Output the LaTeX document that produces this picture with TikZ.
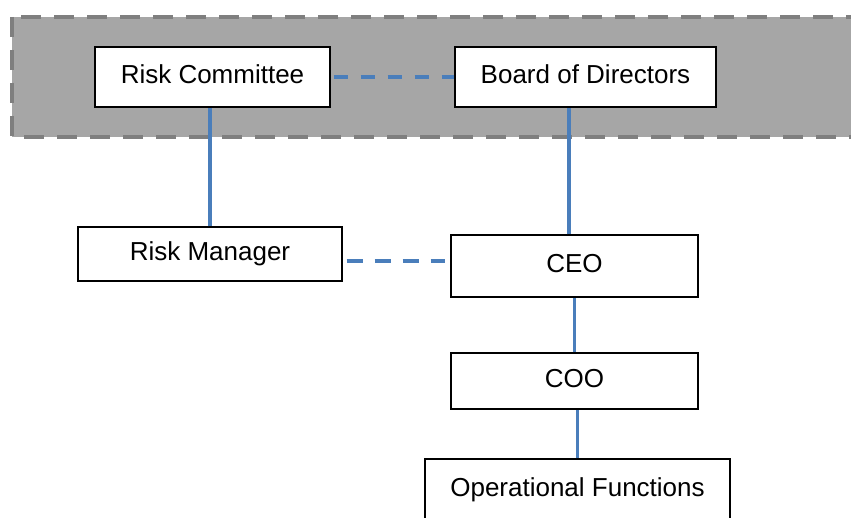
\documentclass[tikz,border=0pt]{standalone}
\usepackage{fontspec}
\setmainfont{Liberation Sans}
\definecolor{bandfill}{HTML}{A6A6A6}
\definecolor{bandedge}{HTML}{7F7F7F}
\definecolor{linkblue}{HTML}{4A7EBB}
\begin{document}
\begin{tikzpicture}[x=1pt,y=-1pt,
  orgbox/.style={draw=black, line width=1.4pt, fill=white, rectangle,
    inner sep=0pt, font=\fontsize{26}{30}\selectfont,
    text height=18.7pt, text depth=6.5pt},
  solidlink/.style={draw=linkblue, line width=3.2pt},
  dashlink/.style={draw=linkblue, line width=3.2pt}]
  \useasboundingbox (0,0) rectangle (851,518);
  % board-level band
  \draw[fill=bandfill, draw=bandedge, line width=4.5pt, dash pattern=on 20pt off 13pt]
    (12,17) rectangle (880,137);
  % boxes
  \node[orgbox, minimum width=235pt, minimum height=60pt] (rc)  at (212.5,77)  {Risk Committee};
  \node[orgbox, minimum width=261pt, minimum height=60pt] (bod) at (585.5,77)  {Board of Directors};
  \node[orgbox, minimum width=264pt, minimum height=54pt] (rm)  at (210,254)   {Risk Manager};
  \node[orgbox, minimum width=247pt, minimum height=62pt] (ceo) at (574.5,266) {CEO};
  \node[orgbox, minimum width=247pt, minimum height=56pt] (coo) at (574.5,381) {COO};
  \node[orgbox, minimum width=305pt, minimum height=62pt] (of)  at (577.5,490) {Operational Functions};
  % reporting lines
  \draw[solidlink] (rm.north) -- (rm.north |- rc.south);
  \draw[solidlink] ([xshift=-5.5pt]ceo.north) -- ([xshift=-5.5pt]ceo.north |- bod.south);
  \draw[solidlink] (coo.north) -- (coo.north |- ceo.south);
  \draw[solidlink] (of.north) -- (of.north |- coo.south);
  % advisory links
  \coordinate (rmlink) at ([yshift=-7pt]rm.east);
  \draw[dashlink, dash pattern=on 14pt off 13pt, shorten <=3pt] (rc.east) -- (bod.west);
  \draw[dashlink, dash pattern=on 16pt off 12pt, shorten <=4pt, shorten >=5pt]
    (rmlink) -- (ceo.west |- rmlink);
\end{tikzpicture}
\end{document}
